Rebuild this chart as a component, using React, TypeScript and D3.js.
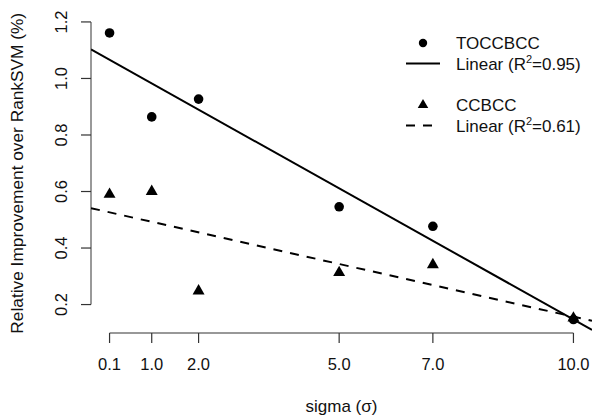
import { useEffect, useRef } from 'react';
import * as d3 from 'd3';

const sigmas = [0.1, 1.0, 2.0, 5.0, 7.0, 10.0];
const sigmaLabels = ['0.1', '1.0', '2.0', '5.0', '7.0', '10.0'];
const toccbcc = [1.161, 0.864, 0.927, 0.546, 0.477, 0.147];
const ccbcc = [0.59, 0.6, 0.248, 0.313, 0.341, 0.152];
const yTicks = [0.2, 0.4, 0.6, 0.8, 1.0, 1.2];
const seriesNames = ['TOCCBCC', 'CCBCC'];

const W = 592;
const H = 419;
const FONT = '"Liberation Sans", Arial, Helvetica, sans-serif';

// ordinary least squares, also gives R^2
function fit(xs: number[], ys: number[]) {
  const mx = d3.mean(xs)!;
  const my = d3.mean(ys)!;
  let sxy = 0, sxx = 0, syy = 0;
  xs.forEach((x, i) => {
    sxy += (x - mx) * (ys[i] - my);
    sxx += (x - mx) ** 2;
    syy += (ys[i] - my) ** 2;
  });
  const slope = sxy / sxx;
  return { slope, intercept: my - slope * mx, r2: (sxy * sxy) / (sxx * syy) };
}

// R style: data range padded 4% on each side
function padded(vals: number[]): [number, number] {
  const [lo, hi] = d3.extent(vals) as [number, number];
  const p = (hi - lo) * 0.04;
  return [lo - p, hi + p];
}

export default function App() {
  const svgRef = useRef<SVGSVGElement>(null);

  useEffect(() => {
    const svg = d3.select(svgRef.current);
    svg.selectAll('*').remove();

    const plot = { left: 91, right: 592, top: 21.5, bottom: 331 };

    const x = d3.scaleLinear().domain(padded(sigmas)).range([plot.left, plot.right]);
    const y = d3.scaleLinear().domain(padded([...toccbcc, ...ccbcc])).range([plot.bottom, plot.top]);

    svg.append('defs').append('clipPath').attr('id', 'plotclip')
      .append('rect')
      .attr('x', plot.left).attr('y', plot.top)
      .attr('width', plot.right - plot.left).attr('height', plot.bottom - plot.top);

    // Y axis
    const yAxis = svg.append('g').attr('font-family', FONT);
    yAxis.append('line')
      .attr('x1', plot.left).attr('x2', plot.left)
      .attr('y1', y(yTicks[0])).attr('y2', y(yTicks[yTicks.length - 1]))
      .attr('stroke', '#555').attr('stroke-width', 1.2);
    yTicks.forEach((t) => {
      yAxis.append('line')
        .attr('x1', plot.left - 10).attr('x2', plot.left)
        .attr('y1', y(t)).attr('y2', y(t))
        .attr('stroke', '#333').attr('stroke-width', 1.2);
      yAxis.append('text')
        .attr('transform', `translate(67,${y(t)}) rotate(-90)`)
        .attr('text-anchor', 'middle')
        .attr('font-size', 16.5)
        .attr('fill', '#111')
        .text(d3.format('.1f')(t));
    });

    // X axis, drawn a touch under the plot region like R
    const axisY = 333;
    const xAxis = svg.append('g').attr('font-family', FONT);
    xAxis.append('line')
      .attr('x1', x(sigmas[0])).attr('x2', x(sigmas[sigmas.length - 1]))
      .attr('y1', axisY).attr('y2', axisY)
      .attr('stroke', '#333').attr('stroke-width', 1.2);
    sigmas.forEach((s, i) => {
      xAxis.append('line')
        .attr('x1', x(s)).attr('x2', x(s))
        .attr('y1', axisY).attr('y2', axisY + 10)
        .attr('stroke', '#333').attr('stroke-width', 1.2);
      xAxis.append('text')
        .attr('x', x(s)).attr('y', 370)
        .attr('text-anchor', 'middle')
        .attr('font-size', 16.5)
        .attr('fill', '#111')
        .text(sigmaLabels[i]);
    });

    // Axis titles
    svg.append('text')
      .attr('x', (plot.left + plot.right) / 2).attr('y', 412)
      .attr('text-anchor', 'middle')
      .attr('font-family', FONT).attr('font-size', 17).attr('fill', '#111')
      .text('sigma (σ)');
    svg.append('text')
      .attr('transform', `translate(23,${(plot.top + plot.bottom) / 2 - 3}) rotate(-90)`)
      .attr('text-anchor', 'middle')
      .attr('font-family', FONT).attr('font-size', 17.3).attr('fill', '#111')
      .text('Relative Improvement over RankSVM (%)');

    // Regression lines
    const fits = [fit(sigmas, toccbcc), fit(sigmas, ccbcc)];
    const dashes = [null, '9,8'];
    const [x0, x1] = x.domain();
    fits.forEach((f, i) => {
      svg.append('line')
        .attr('clip-path', 'url(#plotclip)')
        .attr('x1', x(x0)).attr('y1', y(f.intercept + f.slope * x0))
        .attr('x2', x(x1)).attr('y2', y(f.intercept + f.slope * x1))
        .attr('stroke', '#000').attr('stroke-width', 2)
        .attr('stroke-dasharray', dashes[i]);
    });

    // Points
    const tri = d3.symbol().type(d3.symbolTriangle).size(62);
    svg.append('g').selectAll('circle').data(sigmas).join('circle')
      .attr('cx', (d) => x(d)).attr('cy', (_, i) => y(toccbcc[i]))
      .attr('r', 4.8).attr('fill', '#000');
    svg.append('g').selectAll('path').data(sigmas).join('path')
      .attr('transform', (d, i) => `translate(${x(d)},${y(ccbcc[i])})`)
      .attr('d', tri).attr('fill', '#000');

    // Legend
    const legend = svg.append('g').attr('font-family', FONT).attr('font-size', 17).attr('fill', '#111');
    const rows = [43, 105];
    seriesNames.forEach((name, i) => {
      const ry = rows[i];
      if (i === 0) {
        legend.append('circle').attr('cx', 423).attr('cy', ry).attr('r', 4.2).attr('fill', '#000');
      } else {
        legend.append('path').attr('transform', `translate(423,${ry})`)
          .attr('d', d3.symbol().type(d3.symbolTriangle).size(48)()).attr('fill', '#000');
      }
      legend.append('text').attr('x', 456).attr('y', ry + 6).text(name);
      legend.append('line')
        .attr('x1', 406).attr('x2', 440)
        .attr('y1', ry + 20.5).attr('y2', ry + 20.5)
        .attr('stroke', '#000').attr('stroke-width', 2)
        .attr('stroke-dasharray', dashes[i]);
      const t = legend.append('text').attr('x', 456).attr('y', ry + 27);
      t.append('tspan').text('Linear (R');
      t.append('tspan').attr('font-size', 11).attr('dy', -7).text('2');
      t.append('tspan').attr('dy', 7).text(`=${d3.format('.2f')(fits[i].r2)})`);
    });
  }, []);

  return (
    <svg
      ref={svgRef}
      width={W}
      height={H}
      style={{ position: 'absolute', left: 0, top: 0, background: '#fff' }}
    />
  );
}
